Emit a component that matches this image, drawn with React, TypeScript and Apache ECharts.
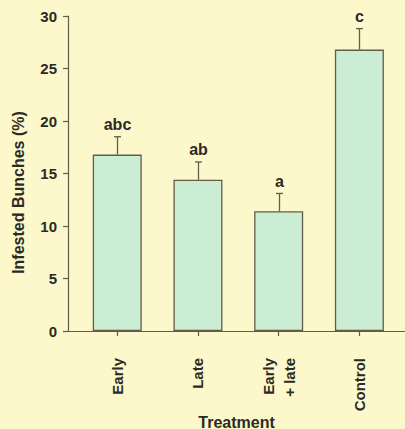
import React, { useEffect, useRef } from "react";
import * as echarts from "echarts";

// Treatments and their mean infestation (%) with the upper error limit
const categories = ["Early", "Late", "Early\n+ late", "Control"];
const means = [16.8, 14.4, 11.4, 26.8];
const upperErr = [18.5, 16.1, 13.1, 28.8];
const groupLetters = ["abc", "ab", "a", "c"];
const yTicks = [0, 5, 10, 15, 20, 25, 30];

const INK = "#2b2a24";
const LINE = "#625d4a";
const FILL = "#cbedd3";
const BG = "#fcf8cb";
const FONT = "'Liberation Sans', Arial, Helvetica, sans-serif";

export default function App() {
  const ref = useRef<HTMLDivElement>(null);

  useEffect(() => {
    document.body.style.margin = "0";
    const chart = echarts.init(ref.current!, null, { renderer: "svg" });

    const idx = categories.map((_, i) => i);

    chart.setOption({
      animation: false,
      backgroundColor: BG,
      textStyle: { fontFamily: FONT },
      grid: { left: 68, right: 0, top: 16, bottom: 98, outerBoundsMode: "none", containLabel: false },
      xAxis: {
        type: "value",
        min: -0.61,
        max: 3.565,
        splitLine: { show: false },
        axisLine: { show: true, onZero: false, lineStyle: { color: LINE, width: 1.2 } },
        axisTick: {
          show: true,
          customValues: idx,
          length: 5,
          lineStyle: { color: LINE, width: 1.2 },
        },
        axisLabel: {
          customValues: idx,
          rotate: 90,
          margin: 27,
          color: INK,
          fontSize: 15,
          fontWeight: "bold",
          lineHeight: 21,
          formatter: (v: number) => categories[Math.round(v)] ?? "",
        },
        name: "Treatment",
        nameLocation: "middle",
        nameGap: 83,
        nameMoveOverlap: false,
        nameTextStyle: { color: INK, fontSize: 16, fontWeight: "bold" },
      },
      yAxis: {
        type: "value",
        min: 0,
        max: 30,
        interval: 5,
        splitLine: { show: false },
        axisLine: { show: true, onZero: false, lineStyle: { color: LINE, width: 1.2 } },
        axisTick: { show: true, length: 5, lineStyle: { color: LINE, width: 1.2 } },
        axisLabel: {
          margin: 11,
          color: INK,
          fontSize: 15,
          fontWeight: "bold",
          customValues: yTicks,
        },
        name: "Infested Bunches (%)",
        nameLocation: "middle",
        nameGap: 42,
        nameRotate: 90,
        nameTextStyle: {
          color: INK,
          fontSize: 16,
          fontWeight: "bold",
          padding: [0, 38, 0, 0],
        },
      },
      series: [
        {
          type: "bar",
          barWidth: 49,
          data: means.map((m, i) => [i, m]),
          itemStyle: { color: FILL, borderColor: LINE, borderWidth: 1.3 },
        },
        {
          type: "custom",
          data: means.map((m, i) => [i, m, upperErr[i]]),
          renderItem: (params: any, api: any) => {
            const i = params.dataIndex;
            const base = api.coord([api.value(0), api.value(1)]);
            const top = api.coord([api.value(0), api.value(2)]);
            const x = Math.round(base[0]) + 0.5;
            return {
              type: "group",
              children: [
                {
                  type: "line",
                  shape: { x1: x, y1: base[1], x2: x, y2: top[1] },
                  style: { stroke: LINE, lineWidth: 1.3 },
                },
                {
                  type: "line",
                  shape: { x1: x - 3.5, y1: top[1], x2: x + 3.5, y2: top[1] },
                  style: { stroke: LINE, lineWidth: 1.3 },
                },
                {
                  type: "text",
                  x: x,
                  y: top[1] - 4,
                  style: {
                    text: groupLetters[i],
                    fill: INK,
                    font: `bold 16px ${FONT}`,
                    align: "center",
                    verticalAlign: "bottom",
                  },
                },
              ],
            };
          },
          z: 3,
        },
      ],
    });

    return () => chart.dispose();
  }, []);

  return <div ref={ref} style={{ width: 405, height: 429 }} />;
}
